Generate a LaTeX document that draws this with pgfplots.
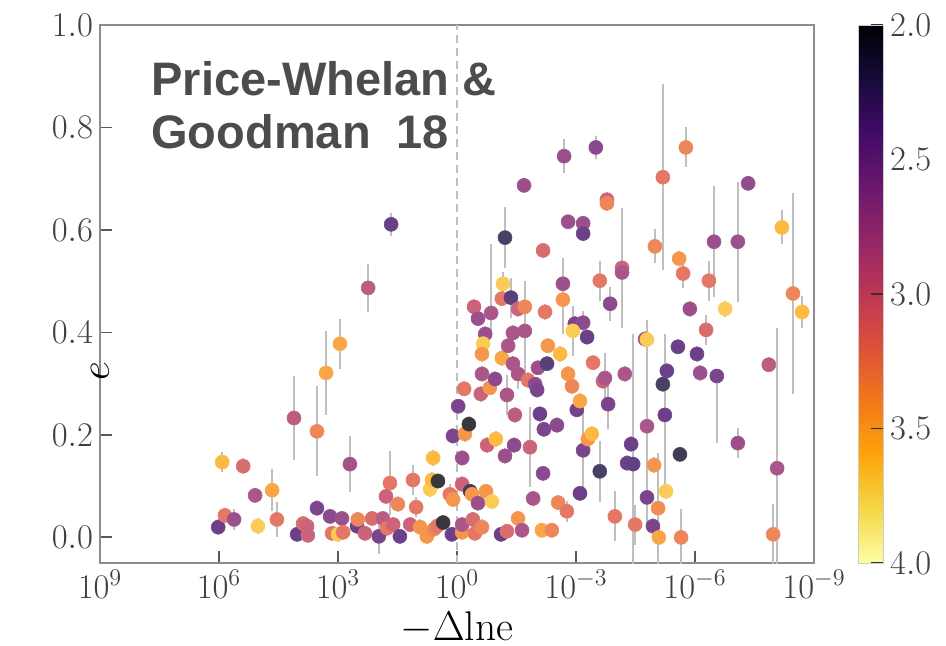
\documentclass[border=0pt]{standalone}
\usepackage{fontspec}
\usepackage{pgfplots}
\usepackage{pgfplotstable}
\pgfplotsset{compat=1.18}
\newfontfamily\annfont{Liberation Sans}

\pgfplotsset{colormap={inferno}{rgb255(0cm)=(0,0,4); rgb255(1cm)=(22,11,57); rgb255(2cm)=(66,10,104); rgb255(3cm)=(106,23,110); rgb255(4cm)=(147,38,103); rgb255(5cm)=(188,55,84); rgb255(6cm)=(221,81,58); rgb255(7cm)=(243,120,25); rgb255(8cm)=(252,165,10); rgb255(9cm)=(246,215,70); rgb255(10cm)=(252,255,164)}}

% x = log10(-Delta ln e), y = e, c = colour value, ep/em = error plus/minus
\pgfplotstableread{
x y c ep em
6.02 0.020 2.4 0.015 0.015
5.92 0.147 3.6 0.020 0.020
5.85 0.043 3.2 0.015 0.015
5.62 0.035 2.7 0.020 0.020
5.39 0.139 3.1 0.015 0.015
5.09 0.082 2.8 0.015 0.015
5.02 0.022 3.7 0.015 0.015
4.66 0.092 3.5 0.041 0.041
4.54 0.035 3.2 0.035 0.035
4.11 0.233 2.9 0.082 0.082
4.03 0.006 2.4 0.015 0.015
3.88 0.027 3.1 0.015 0.015
3.78 0.022 3.0 0.015 0.015
3.76 0.004 3.0 0.015 0.015
3.53 0.207 3.3 0.088 0.088
3.53 0.057 2.5 0.016 0.016
3.30 0.321 3.5 0.082 0.082
3.20 0.041 2.6 0.015 0.015
3.15 0.008 3.2 0.015 0.015
3.00 0.006 3.7 0.015 0.015
2.95 0.378 3.5 0.049 0.049
2.90 0.037 2.7 0.015 0.015
2.87 0.010 3.2 0.015 0.015
2.70 0.143 2.75 0.055 0.055
2.52 0.022 2.4 0.015 0.015
2.50 0.035 3.3 0.015 0.015
2.32 0.008 3.0 0.015 0.015
2.24 0.487 2.9 0.047 0.047
2.14 0.037 3.1 0.015 0.015
1.97 0.002 2.5 0.035 0.035
1.87 0.037 2.9 0.015 0.015
1.79 0.080 3.0 0.015 0.015
1.76 0.018 3.2 0.015 0.015
1.69 0.106 3.2 0.063 0.063
1.66 0.611 2.4 0.023 0.023
1.61 0.025 3.0 0.015 0.015
1.49 0.065 3.3 0.015 0.015
1.44 0.002 2.4 0.015 0.015
1.18 0.025 3.0 0.015 0.015
1.11 0.112 3.2 0.029 0.029
1.03 0.059 3.2 0.020 0.020
0.93 0.020 3.4 0.015 0.015
0.76 0.002 3.4 0.015 0.015
0.68 0.094 3.7 0.015 0.015
0.63 0.112 3.6 0.015 0.015
0.60 0.155 3.6 0.015 0.015
0.58 0.016 3.3 0.015 0.015
0.50 0.022 3.2 0.015 0.015
0.48 0.110 2.0 0.015 0.015
0.35 0.029 2.0 0.015 0.015
0.18 0.084 3.2 0.020 0.020
0.13 0.006 2.4 0.015 0.015
0.10 0.198 2.5 0.015 0.015
0.10 0.074 3.4 0.015 0.015
-0.03 0.256 2.5 0.015 0.015
-0.13 0.155 2.7 0.015 0.015
-0.13 0.104 3.0 0.015 0.015
-0.13 0.010 3.4 0.015 0.015
-0.13 0.025 2.8 0.015 0.015
-0.18 0.290 3.2 0.015 0.015
-0.20 0.202 3.4 0.015 0.015
-0.30 0.221 2.0 0.015 0.015
-0.33 0.090 2.1 0.015 0.015
-0.38 0.084 3.4 0.015 0.015
-0.40 0.035 3.1 0.015 0.015
-0.45 0.008 3.2 0.015 0.015
-0.53 0.067 2.7 0.015 0.015
-0.63 0.020 3.3 0.015 0.015
-0.73 0.090 3.4 0.015 0.015
-0.76 0.180 3.0 0.015 0.015
-0.88 0.070 3.7 0.015 0.015
-0.98 0.192 3.6 0.015 0.015
-1.11 0.006 2.4 0.015 0.015
-1.21 0.159 2.7 0.015 0.015
-1.26 0.012 3.1 0.015 0.015
-1.44 0.180 2.6 0.015 0.015
-1.46 0.239 2.9 0.015 0.015
-1.54 0.037 3.4 0.015 0.015
-1.64 0.014 2.8 0.015 0.015
-1.84 0.176 3.0 0.078 0.078
-1.92 0.076 2.8 0.015 0.015
-2.09 0.241 2.4 0.015 0.015
-2.14 0.014 3.5 0.015 0.015
-2.17 0.125 2.6 0.015 0.015
-2.19 0.211 2.5 0.015 0.015
-2.39 0.014 3.3 0.015 0.015
-2.52 0.219 2.6 0.015 0.015
-2.55 0.068 3.3 0.015 0.015
-2.77 0.051 3.2 0.020 0.020
-3.02 0.249 2.45 0.015 0.015
-3.10 0.266 3.5 0.015 0.015
-3.10 0.086 2.4 0.015 0.015
-3.18 0.170 2.5 0.088 0.088
-3.30 0.192 3.4 0.015 0.015
-3.40 0.202 3.6 0.015 0.015
-3.60 0.129 2.2 0.059 0.059
-3.68 0.305 3.0 0.015 0.015
-3.81 0.260 2.5 0.049 0.049
-3.98 0.041 3.2 0.049 0.049
-0.43 0.450 3.0 0.015 0.015
-0.53 0.427 2.7 0.015 0.015
-0.71 0.397 2.7 0.015 0.015
-0.66 0.378 3.7 0.015 0.015
-0.63 0.358 3.4 0.015 0.015
-0.63 0.319 2.8 0.015 0.015
-0.60 0.280 3.0 0.015 0.015
-0.83 0.292 3.4 0.015 0.015
-0.96 0.309 2.6 0.015 0.015
-1.13 0.350 3.5 0.015 0.015
-1.26 0.278 2.8 0.039 0.039
-1.29 0.374 2.8 0.015 0.015
-1.41 0.339 2.8 0.015 0.015
-1.41 0.399 2.8 0.015 0.015
-1.54 0.319 2.8 0.029 0.029
-1.71 0.403 2.8 0.098 0.098
-1.79 0.307 3.2 0.015 0.015
-1.97 0.299 2.6 0.015 0.015
-2.02 0.288 2.5 0.015 0.015
-2.04 0.331 2.7 0.015 0.015
-2.27 0.339 2.3 0.015 0.015
-2.29 0.374 3.4 0.015 0.015
-2.60 0.358 3.6 0.015 0.015
-2.80 0.319 3.4 0.015 0.015
-2.90 0.295 3.3 0.015 0.015
-2.97 0.417 2.5 0.015 0.015
-3.18 0.419 2.6 0.023 0.023
-2.92 0.403 3.7 0.049 0.049
-3.28 0.391 2.4 0.015 0.015
-3.43 0.341 3.2 0.015 0.015
-3.73 0.311 2.8 0.049 0.049
-0.86 0.438 2.8 0.135 0.049
-1.13 0.466 3.2 0.015 0.015
-1.16 0.495 3.7 0.023 0.023
-1.36 0.468 2.3 0.039 0.039
-1.21 0.585 2.2 0.059 0.059
-1.54 0.446 3.0 0.015 0.015
-1.71 0.450 3.3 0.015 0.015
-1.69 0.687 2.7 0.015 0.015
-2.17 0.560 3.1 0.015 0.015
-2.22 0.440 3.2 0.015 0.015
-2.67 0.495 2.7 0.049 0.049
-2.67 0.464 3.4 0.082 0.067
-2.70 0.744 2.7 0.033 0.033
-2.80 0.616 2.7 0.015 0.015
-3.18 0.613 2.7 0.015 0.015
-3.18 0.593 2.4 0.015 0.015
-3.50 0.761 2.6 0.023 0.023
-3.60 0.501 3.2 0.039 0.039
-3.78 0.659 3.0 0.015 0.015
-3.78 0.652 3.3 0.015 0.015
-3.86 0.456 2.6 0.033 0.033
-4.16 0.526 3.0 0.117 0.117
-4.16 0.517 2.8 0.078 0.078
-4.99 0.568 3.3 0.033 0.033
-5.19 0.703 3.2 0.182 0.182
-5.60 0.544 3.4 0.015 0.015
-5.70 0.515 3.2 0.029 0.029
-5.77 0.761 3.3 0.039 0.039
-5.87 0.446 2.7 0.015 0.015
-6.35 0.501 3.2 0.039 0.039
-6.28 0.405 3.1 0.029 0.029
-6.48 0.577 2.7 0.108 0.108
-6.76 0.446 3.7 0.015 0.015
-7.08 0.577 2.7 0.117 0.117
-7.34 0.691 2.65 0.015 0.015
-8.19 0.605 3.6 0.033 0.033
-8.47 0.476 3.3 0.196 0.196
-8.70 0.440 3.6 0.031 0.031
-4.23 0.319 2.8 0.015 0.015
-4.74 0.387 2.8 0.015 0.015
-4.79 0.386 3.7 0.039 0.039
-5.29 0.325 2.4 0.015 0.015
-5.57 0.372 2.4 0.015 0.015
-6.05 0.358 2.4 0.015 0.015
-6.13 0.321 2.7 0.015 0.015
-6.55 0.315 2.5 0.010 0.131
-7.86 0.337 2.9 0.015 0.015
-5.19 0.299 2.2 0.015 0.015
-5.24 0.239 2.4 0.157 0.157
-4.79 0.217 2.8 0.196 0.196
-4.39 0.182 2.4 0.015 0.015
-5.62 0.162 2.1 0.015 0.015
-7.08 0.184 2.7 0.029 0.029
-4.29 0.145 2.4 0.015 0.015
-4.44 0.143 2.35 0.254 0.254
-4.97 0.141 3.4 0.015 0.015
-8.07 0.135 2.8 0.274 0.274
-5.27 0.090 3.7 0.015 0.015
-4.79 0.078 2.5 0.015 0.015
-5.07 0.057 3.35 0.108 0.108
-4.49 0.025 3.2 0.039 0.039
-4.94 0.022 2.5 0.015 0.015
-5.09 0.000 3.5 0.015 0.015
-5.65 0.000 3.3 0.055 0.055
-7.97 0.006 3.3 0.059 0.059
}\data

\begin{document}
\begin{tikzpicture}
\path[use as bounding box] (-50pt,-41pt) rectangle (423pt,281.5pt);
\begin{axis}[
  at={(0pt,0pt)}, anchor=south west,
  scale only axis, width=357pt, height=269pt,
  x dir=reverse,
  xmin=-9, xmax=9, ymin=-0.05, ymax=1.0,
  xtick={9,6,3,0,-3,-6,-9},
  xticklabels={$10^{9}$,$10^{6}$,$10^{3}$,$10^{0}$,$10^{-3}$,$10^{-6}$,$10^{-9}$},
  ytick={0,0.2,0.4,0.6,0.8,1.0},
  yticklabel style={/pgf/number format/.cd, fixed, fixed zerofill, precision=1},
  ticklabel style={font=\fontsize{17.28}{20}\selectfont, text=black!75},
  xtick pos=bottom, ytick pos=left,
  tick align=inside,
  major tick length=6pt,
  major tick style={draw=black!65, line width=0.9pt},
  axis line style={draw=black!45, line width=1pt},
  xlabel={$-\Delta\mathrm{lne}$},
  ylabel={$e$},
  label style={font=\fontsize{20.74}{24}\selectfont},
  xlabel style={at={(axis description cs:0.5,0)}, anchor=base, yshift=-38.5pt},
  ylabel style={at={(axis description cs:0,0.5)}, anchor=center, xshift=-38.5pt},
  colormap name=inferno,
  point meta min=2, point meta max=4,
  colorbar,
  colorbar style={
    at={(parent axis.north east)}, anchor=north west, xshift=13.5pt,
    width=12.5pt,
    y dir=reverse,
    ytick={2,2.5,3,3.5,4},
    yticklabel style={font=\fontsize{17.28}{20}\selectfont, text=black!75, /pgf/number format/.cd, fixed, fixed zerofill, precision=1},
    ytick pos=right, yticklabel pos=right,
    tick align=inside,
    major tick length=6pt,
    major tick style={draw=black!80, line width=0.7pt},
    axis line style={draw=black!20, line width=0.4pt},
  },
]
\addplot[forget plot, draw=black!25, line width=1pt, dash pattern=on 4pt off 2.5pt] coordinates {(0,-0.05) (0,1.0)};
\addplot[forget plot, only marks, mark=none,
  error bars/.cd, y dir=both, y explicit, error mark=none,
  error bar style={line width=1pt, draw=black!25}]
  table[x=x, y=y, y error plus=ep, y error minus=em] \data;
\addplot[scatter, only marks, mark=*, mark size=3.5pt, point meta=explicit,
  scatter/use mapped color={draw=mapped color!75!white, fill=mapped color!78!white, line width=0.3pt}]
  table[x=x, y=y, meta=c] \data;
\end{axis}
\node[anchor=base west, text=black!70, font=\annfont\bfseries\fontsize{23.5}{28}\selectfont, inner sep=0pt] at (25.5pt,234pt) {Price-Whelan \&};
\node[anchor=base west, text=black!70, font=\annfont\bfseries\fontsize{23.5}{28}\selectfont, inner sep=0pt] at (25.5pt,207.5pt) {Goodman~~18};
\end{tikzpicture}
\end{document}
